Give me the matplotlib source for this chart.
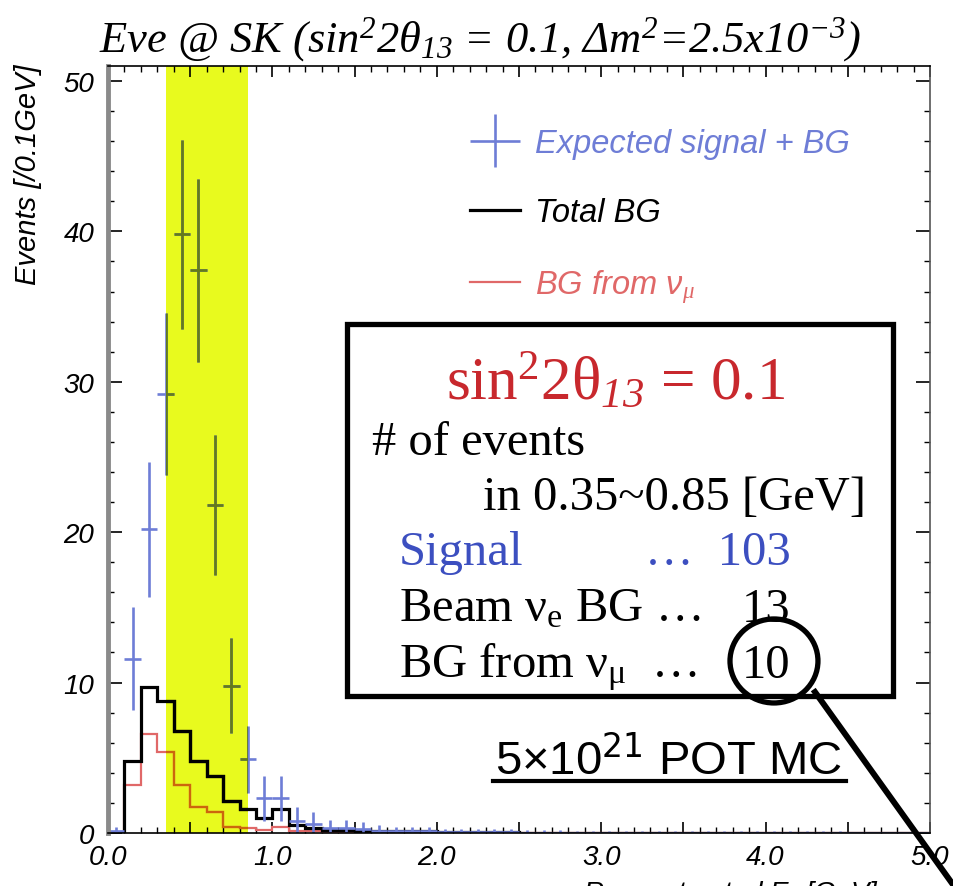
import numpy as np
import matplotlib
matplotlib.use('Agg')
import matplotlib.pyplot as plt
import matplotlib.colors as mcolors
from matplotlib.patches import Rectangle, Ellipse
from matplotlib.lines import Line2D
from matplotlib.ticker import MultipleLocator, FuncFormatter
from matplotlib.legend_handler import HandlerErrorbar
from matplotlib.container import ErrorbarContainer

plt.rcParams['font.family'] = ['Liberation Sans', 'DejaVu Sans']
plt.rcParams['mathtext.fontset'] = 'custom'
plt.rcParams['mathtext.rm'] = 'Liberation Serif'
plt.rcParams['mathtext.it'] = 'Liberation Serif:italic'
plt.rcParams['mathtext.bf'] = 'Liberation Serif:bold'
# \mathsf is used for italic digits in sub/superscripts
plt.rcParams['mathtext.sf'] = 'Liberation Serif:italic'

# reconstructed energy, 0.1 GeV bins from 0 to 5 GeV
bin_edges = np.round(np.linspace(0.0, 5.0, 51), 2)
bin_centers = (bin_edges[:-1] + bin_edges[1:]) / 2

# expected signal + BG (events / 0.1 GeV)
expected = [0.1, 11.6, 20.2, 29.2, 39.8, 37.4, 21.8, 9.8, 4.9, 2.3,
            2.3, 0.8, 0.6, 0.3, 0.3, 0.25, 0.15, 0.1, 0.1, 0.1,
            0.05, 0.05, 0.05, 0.04, 0.04, 0.03, 0.03, 0.03, 0.02, 0.02,
            0.02, 0.02, 0.02, 0.01, 0.01, 0.01, 0.01, 0.01, 0.01, 0.01,
            0.01, 0.01, 0.01, 0.01, 0.01, 0.0, 0.0, 0.0, 0.0, 0.0]
# total background
total_bg = [0.0, 4.8, 9.7, 8.75, 6.8, 4.8, 3.8, 2.1, 1.6, 1.0,
            1.6, 0.5, 0.3, 0.2, 0.2, 0.15, 0.1, 0.1, 0.1, 0.1,
            0.05, 0.05, 0.05, 0.04, 0.04, 0.03, 0.03, 0.03, 0.02, 0.02,
            0.02, 0.02, 0.02, 0.01, 0.01, 0.01, 0.01, 0.01, 0.01, 0.01,
            0.01, 0.01, 0.01, 0.01, 0.01, 0.0, 0.0, 0.0, 0.0, 0.0]
# background from nu_mu
numu_bg = [0.0, 3.2, 6.6, 5.4, 3.2, 1.7, 1.4, 0.4, 0.3, 0.2,
           0.4, 0.1, 0.1, 0.05, 0.05, 0.05, 0.03, 0.03, 0.02, 0.02,
           0.01, 0.01, 0.01, 0.01, 0.01, 0.01, 0.01, 0.01, 0.01, 0.01,
           0.0, 0.0, 0.0, 0.0, 0.0, 0.0, 0.0, 0.0, 0.0, 0.0,
           0.0, 0.0, 0.0, 0.0, 0.0, 0.0, 0.0, 0.0, 0.0, 0.0]

window = (0.35, 0.85)   # GeV, counting window
n_signal = 103
n_beam_nue = 13
n_numu = 10

blue = '#6e7dd6'
red = '#e06868'
yellow = '#e8fa1e'


def under_band(c):
    # colour of a line seen through the yellow window
    return tuple(a * b for a, b in zip(mcolors.to_rgb(c), mcolors.to_rgb(yellow)))


fig = plt.figure(figsize=(9.54, 8.87), dpi=100)
ax = fig.add_axes([0.1132, 0.0598, 0.8616, 0.8647])

band = ax.axvspan(*window, color=yellow, lw=0, zorder=0)

err = np.sqrt(expected)  # Poisson errors
half_bin = 0.05
for shaded in (False, True):
    col = under_band if shaded else (lambda c: c)
    zo = 3 if shaded else 2
    s_mu = ax.stairs(numu_bg, bin_edges, color=col(red), lw=1.6, zorder=zo)
    s_tot = ax.stairs(total_bg, bin_edges, color=col('black'), lw=2.3, zorder=zo)
    eb = ax.errorbar(bin_centers, expected, xerr=half_bin, yerr=err, fmt='none',
                     ecolor=col(blue), elinewidth=1.9, zorder=zo)
    if shaded:
        for a in [s_mu, s_tot, *eb.lines[2]]:
            a.set_clip_path(band)
    else:
        eb_main = eb

handles = [eb_main, Line2D([], [], color='black', lw=2.3), Line2D([], [], color=red, lw=1.6)]
labels = ['Expected signal + BG', 'Total BG', r'BG from ν$_{\mu}$']
leg = ax.legend(handles, labels, loc='upper left', bbox_to_anchor=(0.4927, 0.8546),
                bbox_transform=fig.transFigure, frameon=False,
                prop=dict(family='Liberation Sans', style='italic', size=23.5),
                handlelength=1.53, handletextpad=0.46, labelspacing=1.18,
                borderpad=0, borderaxespad=0,
                handler_map={ErrorbarContainer: HandlerErrorbar(xerr_size=0.77, yerr_size=0.8)})
for t, c in zip(leg.get_texts(), [blue, 'black', red]):
    t.set_color(c)

# axes
ax.set_xlim(0, 5)
ax.set_ylim(0, 51)
ax.xaxis.set_major_locator(MultipleLocator(0.5))
ax.xaxis.set_minor_locator(MultipleLocator(0.1))
ax.xaxis.set_major_formatter(FuncFormatter(lambda v, p: f'{v:.1f}' if abs(v - round(v)) < 1e-6 else ''))
ax.yaxis.set_major_locator(MultipleLocator(10))
ax.yaxis.set_minor_locator(MultipleLocator(2))
ax.tick_params(which='both', direction='in', top=True, right=True, labelsize=20)
ax.tick_params(which='major', length=8, width=1.2)
ax.tick_params(which='minor', length=4, width=1.0)
ax.tick_params(axis='y', which='major', length=10, pad=10)
ax.tick_params(axis='x', pad=8)
ax.spines['left'].set_color('#8a8a8a')
ax.spines['left'].set_linewidth(3.5)
for s in ('top', 'bottom'):
    ax.spines[s].set_linewidth(1.2)
ax.spines['right'].set_color('#555555')
ax.spines['right'].set_linewidth(1.2)
fig.canvas.draw()
plt.setp(ax.get_xticklabels() + ax.get_yticklabels(), fontstyle='italic')

fig.text(0.029, 0.927, 'Events [/0.1GeV]', rotation=90, ha='center', va='top', size=21, style='italic')
fig.text(0.611, 0.009, r'Reconstructed E$_{\nu}$ [GeV]', ha='left', va='top', size=20, style='italic')

fig.text(0.503, 0.955,
         r'Eνe @ SK (sin$^{\mathsf{2}}$2θ$_{\mathsf{13}}$ = 0.1, Δm$^{\mathsf{2}}$=2.5x10$^{\mathsf{-3}}$)',
         family='Liberation Serif', style='italic', size=32, ha='center', va='center')

# event count box
fig.add_artist(Rectangle((0.3637, 0.2142), 0.5723, 0.4194, transform=fig.transFigure,
                         fill=False, ec='black', lw=3.8, zorder=10))
serif = dict(family='Liberation Serif', style='normal', zorder=11)
fig.text(0.6447, 0.549, r'sin$^{\mathrm{2}}$2θ$_{\mathsf{13}}$ = 0.1', color='#c8282d',
         ha='center', va='baseline', size=44, **serif)
fig.text(0.390, 0.487, '# of events', ha='left', va='baseline', size=35, **serif)
fig.text(0.506, 0.425, f'in {window[0]:.2f}~{window[1]:.2f} [GeV]', ha='left', va='baseline', size=35, **serif)
rows = [('Signal', n_signal, '#3c4fc0', 0.363),
        (r'Beam ν$_{\mathrm{e}}$ BG …', n_beam_nue, 'black', 0.299),
        (r'BG from ν$_{\mathrm{μ}}$  …', n_numu, 'black', 0.236)]
for name, n, c, y in rows:
    fig.text(0.418, y, name, color=c, ha='left', va='baseline', size=35, **serif)
    num = f'…  {n}' if name == 'Signal' else f'{n}'
    fig.text(0.829, y, num, color=c, ha='right', va='baseline', size=35, **serif)

# circle around the nu_mu count and the pointer line
fig.add_artist(Ellipse((0.8113, 0.2537), 0.0922, 0.0947, transform=fig.transFigure,
                       fill=False, ec='black', lw=3.8, zorder=12))
fig.add_artist(Line2D([0.8543, 1.0105], [0.2187, -0.0158], transform=fig.transFigure,
                      color='black', lw=4.3, zorder=12))

fig.text(0.701, 0.1263, r'5×10$^{\mathrm{21}}$ POT MC', ha='center', va='baseline', size=34,
         math_fontfamily='dejavusans', zorder=11)
fig.add_artist(Line2D([0.517, 0.887], [0.1184, 0.1184], transform=fig.transFigure,
                      color='black', lw=3.0, zorder=11))

fig.savefig('out.png', dpi=100)
